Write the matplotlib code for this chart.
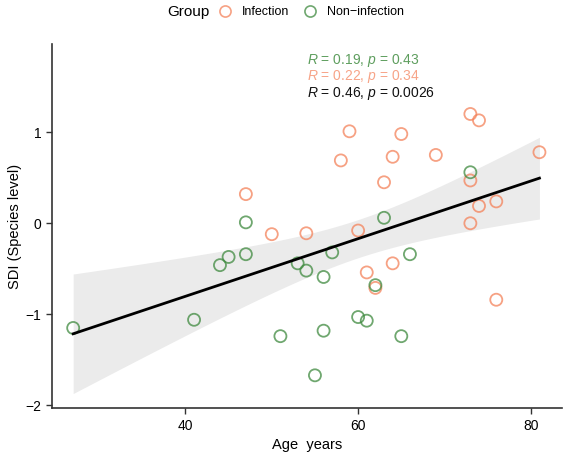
import numpy as np
import matplotlib.pyplot as plt
from matplotlib.lines import Line2D

plt.rcParams["font.family"] = ["Liberation Sans", "DejaVu Sans"]
plt.rcParams["mathtext.fontset"] = "custom"
plt.rcParams["mathtext.it"] = "Liberation Sans:italic"
plt.rcParams["mathtext.rm"] = "Liberation Sans"

# ------------------------------------------------------------
# Datos
# ------------------------------------------------------------
inf_age = [47, 50, 54, 59, 58, 60, 65, 64, 69, 81, 63, 73, 74, 76, 73, 61, 64, 62, 76, 73, 74]
inf_sdi = [0.32, -0.12, -0.11, 1.01, 0.69, -0.08, 0.98, 0.73, 0.75, 0.78, 0.45, 0.47, 0.19, 0.24, 0.0,
           -0.54, -0.44, -0.71, -0.84, 1.20, 1.13]

non_age = [47, 47, 45, 44, 53, 54, 57, 56, 63, 73, 66, 62, 27, 41, 51, 55, 56, 60, 61, 65]
non_sdi = [0.01, -0.34, -0.37, -0.46, -0.44, -0.52, -0.32, -0.59, 0.06, 0.56, -0.34, -0.68,
           -1.15, -1.06, -1.24, -1.67, -1.18, -1.03, -1.07, -1.24]

# etiquetas: no-infección, infección, total
stat_r = ["0.19", "0.22", "0.46"]
stat_p = ["0.43", "0.34", "0.0026"]

COL_INF = "#F4825A"
COL_NON = "#3F8A3F"

# ------------------------------------------------------------
# Regresión lineal global con banda de confianza 95%
# ------------------------------------------------------------
x_all = np.array(inf_age + non_age, dtype=float)
y_all = np.array(inf_sdi + non_sdi, dtype=float)
n = len(x_all)
slope, intercept = np.polyfit(x_all, y_all, 1)
resid = y_all - (slope * x_all + intercept)
s_err = np.sqrt(np.sum(resid**2) / (n - 2))
t_crit = 2.023  # t_{0.975, 39}

x_fit = np.linspace(x_all.min(), x_all.max(), 100)
y_fit = slope * x_fit + intercept
se_fit = s_err * np.sqrt(1 / n + (x_fit - x_all.mean())**2 / np.sum((x_all - x_all.mean())**2))

# ------------------------------------------------------------
# Figura
# ------------------------------------------------------------
fig = plt.figure(figsize=(5.67, 4.57), dpi=100)
ax = fig.add_axes([0.091, 0.107, 0.9, 0.797])

ax.fill_between(x_fit, y_fit - t_crit * se_fit, y_fit + t_crit * se_fit,
                color="#EBEBEB", linewidth=0, zorder=1)

ax.scatter(inf_age, inf_sdi, s=75, facecolors="none", edgecolors=COL_INF,
           linewidths=1.3, alpha=0.75, zorder=3)
ax.scatter(non_age, non_sdi, s=75, facecolors="none", edgecolors=COL_NON,
           linewidths=1.3, alpha=0.75, zorder=3)

ax.plot(x_fit, y_fit, color="black", linewidth=2.0, zorder=4)

# Etiquetas de correlación
stat_colors = ["#5E9E5E", "#F7A488", "#111111"]
stat_y = [1.79, 1.61, 1.43]
for r, p, c, yy in zip(stat_r, stat_p, stat_colors, stat_y):
    ax.text(54.1, yy, rf"$R$ = {r}, $p$ = {p}", color=c, fontsize=10,
            va="center", ha="left")

ax.set_xlim(24.5, 83.6)
ax.set_ylim(-2.03, 1.97)
ax.set_xticks([40, 60, 80])
ax.set_yticks([-2, -1, 0, 1])
ax.tick_params(labelsize=10, length=4, width=1, colors="#333333", labelcolor="black")

for side in ["top", "right"]:
    ax.spines[side].set_visible(False)
for side in ["left", "bottom"]:
    ax.spines[side].set_linewidth(1.2)
    ax.spines[side].set_color("#333333")

ax.set_xlabel("Age  years", fontsize=10.5)
ax.set_ylabel("SDI (Species level)", fontsize=10.5, labelpad=2)

# Leyenda superior
fig.text(0.295, 0.974, "Group", fontsize=11, ha="left", va="center")
handles = [
    Line2D([], [], marker="o", linestyle="none", markerfacecolor="none",
           markeredgecolor=COL_INF, markersize=8, markeredgewidth=1.2, alpha=0.75),
    Line2D([], [], marker="o", linestyle="none", markerfacecolor="none",
           markeredgecolor=COL_NON, markersize=8, markeredgewidth=1.2, alpha=0.75),
]
fig.legend(handles, ["Infection", "Non\u2212infection"],
           loc="center left", bbox_to_anchor=(0.383, 0.974), ncol=2,
           frameon=False, fontsize=9, borderaxespad=0, borderpad=0,
           handletextpad=0.8, columnspacing=1.0, handlelength=1.2)

fig.savefig("out.png", dpi=100)
